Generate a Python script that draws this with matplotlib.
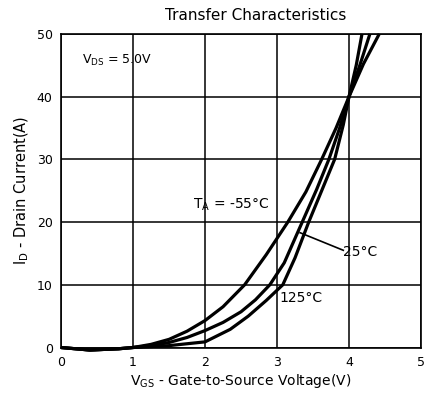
import matplotlib
matplotlib.use("Agg")
import matplotlib.pyplot as plt

plt.rcParams["font.family"] = ["DejaVu Sans"]
plt.rcParams["mathtext.default"] = "regular"

vgs_m55 = [0, 0.4, 0.8, 1.0, 1.25, 1.5, 1.75, 2.0, 2.25, 2.55, 2.85, 3.15, 3.4, 3.62, 3.82, 4.0, 4.2, 4.42]
id_m55 = [0, -0.4, -0.2, 0, 0.5, 1.3, 2.6, 4.3, 6.5, 10, 14.8, 20, 24.8, 30, 35, 40, 45.2, 50]

vgs_25 = [0, 0.4, 0.8, 1.0, 1.25, 1.5, 1.75, 2.0, 2.25, 2.5, 2.7, 2.9, 3.1, 3.35, 3.55, 3.72, 3.87, 4.0, 4.15, 4.29]
id_25 = [0, -0.4, -0.2, 0, 0.3, 0.8, 1.6, 2.7, 4.0, 5.7, 7.6, 10, 13.5, 20, 25.2, 30, 35, 40, 45, 50]

vgs_125 = [0, 0.4, 0.8, 1.0, 1.5, 2.0, 2.35, 2.6, 2.85, 3.08, 3.25, 3.44, 3.62, 3.8, 3.92, 4.0, 4.1, 4.18]
id_125 = [0, -0.4, -0.2, 0, 0.3, 0.9, 2.9, 5.0, 7.5, 10, 14.3, 20, 25, 30, 35.5, 40, 45, 50]

x_ticks = [0, 1, 2, 3, 4, 5]
y_ticks = [0, 10, 20, 30, 40, 50]

fig = plt.figure(figsize=(4.24, 3.94), dpi=100)
ax = fig.add_axes([0.144, 0.118, 0.849, 0.796])

for xs, ys in [(vgs_m55, id_m55), (vgs_25, id_25), (vgs_125, id_125)]:
    ax.plot(xs, ys, color="black", lw=2.3, solid_capstyle="butt", clip_on=False)

ax.set_xlim(0, 5)
ax.set_ylim(0, 50)
ax.set_xticks(x_ticks)
ax.set_yticks(y_ticks)
ax.grid(True, color="black", lw=1.1)
ax.tick_params(length=0, labelsize=9, pad=6)
for s in ax.spines.values():
    s.set_linewidth(1.2)

ax.set_title("Transfer Characteristics", fontsize=11, pad=10, x=0.54)
ax.set_xlabel("V$_{GS}$ - Gate-to-Source Voltage(V)", fontsize=10, labelpad=2)
ax.set_ylabel("I$_{D}$ - Drain Current(A)", fontsize=10.5, labelpad=4)

ax.text(0.29, 45.8, "V$_{DS}$ = 5.0V", fontsize=9, va="center")
ax.text(1.83, 22.7, "T$_{A}$ = -55°C", fontsize=10, va="center")
ax.text(3.92, 15.3, "25°C", fontsize=10, va="center")
ax.text(3.04, 7.9, "125°C", fontsize=10, va="center")
ax.plot([3.32, 3.92], [18.3, 15.5], color="black", lw=1.2)

fig.savefig("out.png", dpi=100)
